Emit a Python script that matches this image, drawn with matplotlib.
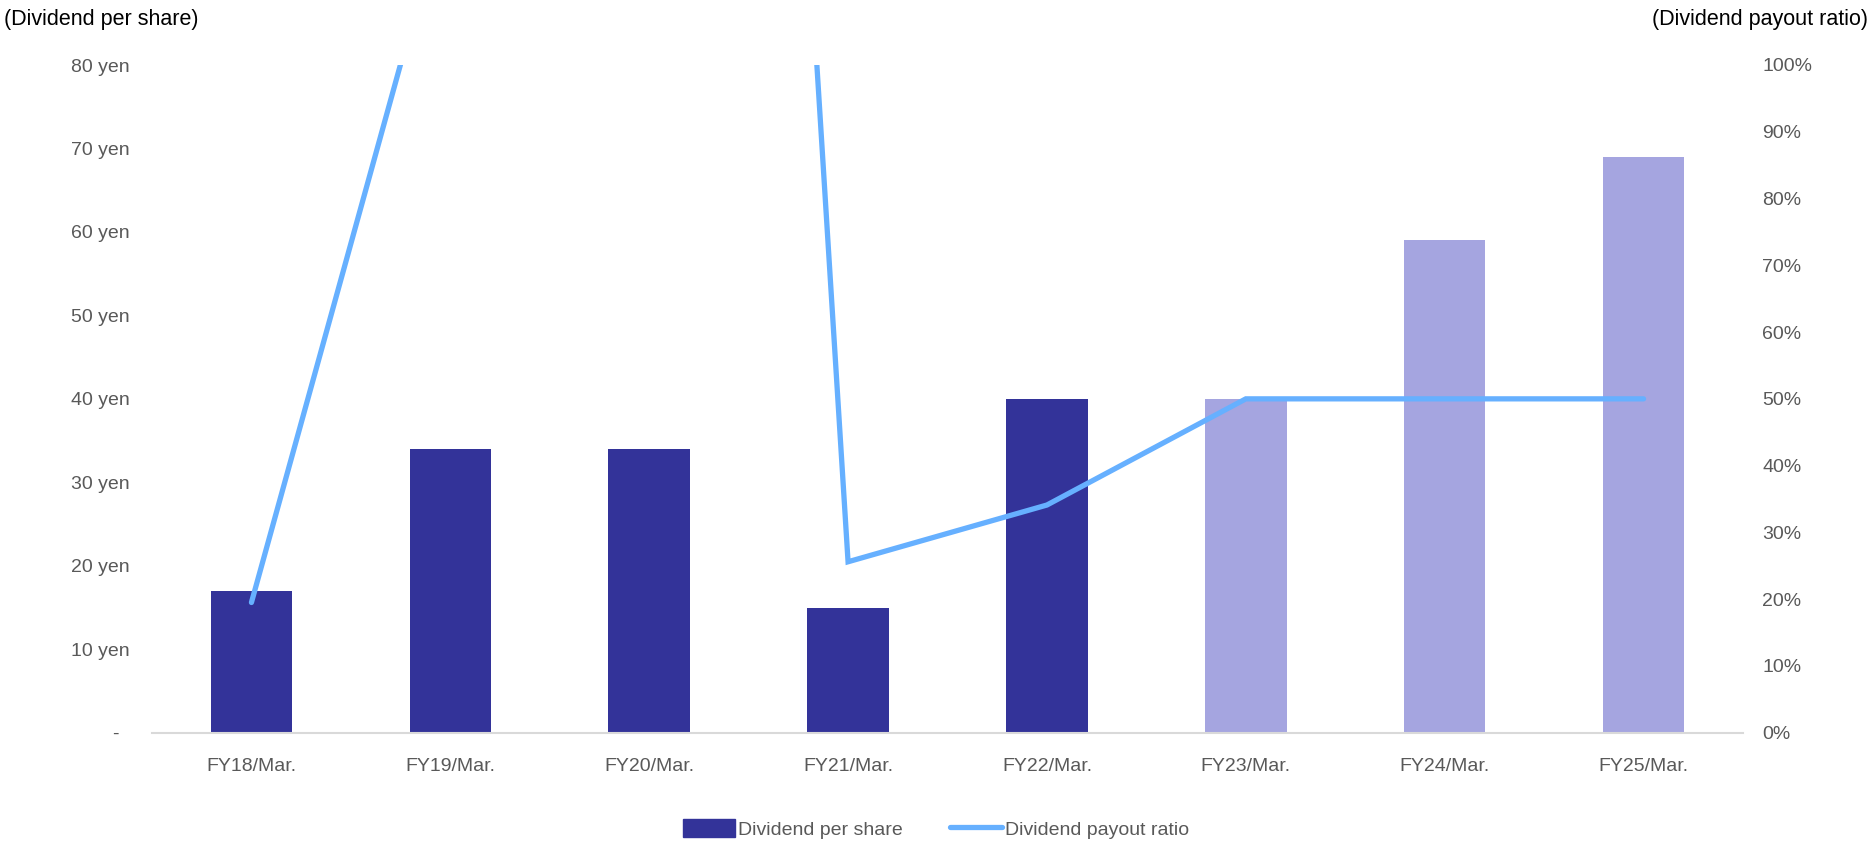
import matplotlib.pyplot as plt
from matplotlib.patches import Patch
from matplotlib.lines import Line2D

plt.rcParams['font.family'] = ['Liberation Sans', 'DejaVu Sans']

# fiscal years, dividend per share (yen) and payout ratio (%)
years = ['FY18/Mar.', 'FY19/Mar.', 'FY20/Mar.', 'FY21/Mar.',
         'FY22/Mar.', 'FY23/Mar.', 'FY24/Mar.', 'FY25/Mar.']
dps = [17, 34, 34, 15, 40, 40, 59, 69]
payout = [19.5, 127, 500, 25.6, 34.1, 50, 50, 50]
n_actual = 5  # FY23 onward are plan figures

dark = '#333399'
light = '#a5a5e0'
line_c = '#66b0ff'
grey = '#595959'

fig = plt.figure(figsize=(18.72, 8.42), dpi=100)
ax = fig.add_axes([152/1872, 1 - 732.7/842, (1743-152)/1872, (732.7-65)/842])
ax2 = ax.twinx()

x = list(range(len(years)))
colors = [dark if i < n_actual else light for i in x]
ax.bar(x, dps, width=0.41, color=colors, zorder=2)
ax2.plot(x, [p / 100 for p in payout], color=line_c, lw=3.8,
         solid_capstyle='round', solid_joinstyle='miter', zorder=3)

ax.set_xlim(-0.5, len(years) - 0.5)
ax.set_ylim(0, 80)
ax2.set_ylim(0, 1)

ax.set_yticks(range(0, 90, 10))
ax.set_yticklabels(['-  '] + [f'{v} yen' for v in range(10, 90, 10)])
ax2.set_yticks([i / 10 for i in range(11)])
ax2.set_yticklabels([f'{i * 10}%' for i in range(11)])
ax.set_xticks(x)
ax.set_xticklabels(years)

for a in (ax, ax2):
    for s in a.spines.values():
        s.set_visible(False)
    a.tick_params(length=0, labelsize=14, labelcolor=grey)
ax.spines['bottom'].set_visible(True)
ax.spines['bottom'].set_color('#d9d9d9')
ax.spines['bottom'].set_linewidth(1.5)
ax.tick_params(axis='y', pad=16)
ax.tick_params(axis='x', pad=18)
ax2.tick_params(axis='y', pad=14)

fig.text(4/1872, 1 - 19/842, '(Dividend per share)', fontsize=15.5,
         va='center', ha='left', color='black')
fig.text(1868/1872, 1 - 19/842, '(Dividend payout ratio)', fontsize=15.5,
         va='center', ha='right', color='black')

handles = [Patch(color=dark), Line2D([0], [0], color=line_c, lw=3.8, solid_capstyle='round')]
fig.legend(handles, ['Dividend per share', 'Dividend payout ratio'],
           loc='center', bbox_to_anchor=(0.5, 1 - 829/842), ncol=2, frameon=False,
           fontsize=14, labelcolor=grey, handlelength=2.7, handletextpad=0.15,
           columnspacing=2.4, handleheight=1.0)

fig.savefig('out.png', dpi=100)
